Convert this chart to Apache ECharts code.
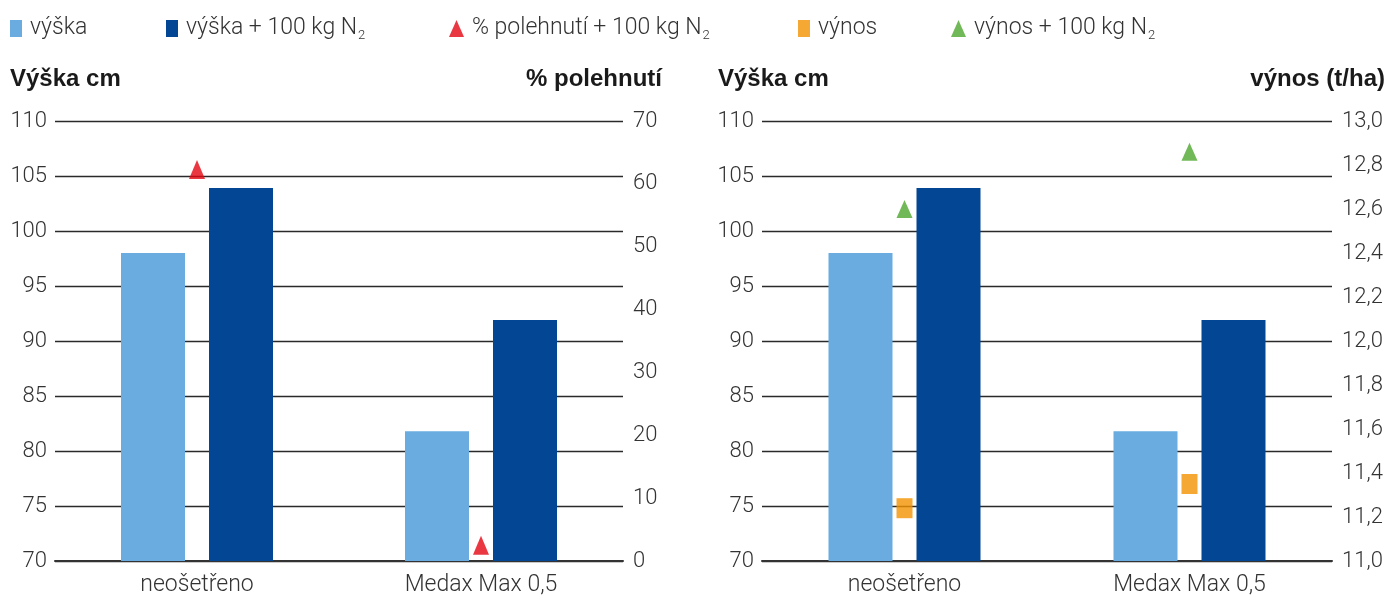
<!DOCTYPE html>
<html><head><meta charset="utf-8">
<script src="https://cdn.jsdelivr.net/npm/echarts@6/dist/echarts.min.js"></script>
<style>html,body{margin:0;padding:0;background:#fff}#c{width:1389px;height:597px}</style>
</head><body><div id="c"></div>
<script>
const categories = ['neošetřeno', 'Medax Max 0,5'];
const vyska = [98, 81.8];
const vyskaN = [103.9, 91.9];
const polehnutiN = [62.3, 2.5];
const vynos = [11.24, 11.35];
const vynosN = [12.6, 12.86];
const heightTicks = {min: 70, max: 110, interval: 5};
const lodgingTicks = {min: 0, max: 70, interval: 10};
const yieldTicks = {min: 11.0, max: 13.0, interval: 0.2};

const C_LIGHT = '#6aacdf', C_DARK = '#034694', C_RED = '#e30613', C_ORANGE = '#f39200', C_GREEN = '#4ea72e';
const TXT = '#333333';
const FONT = 'Roboto';
const tickStyle = {color: TXT, fontFamily: FONT, fontWeight: 300, fontSize: 22};
const textStyle = {color: TXT, fontFamily: FONT, fontWeight: 300, fontSize: 23};

function xAx(i) {
  return {type: 'category', gridIndex: i, data: categories,
    axisLine: {lineStyle: {color: '#333', width: 2}}, axisTick: {show: false},
    axisLabel: Object.assign({margin: 13}, textStyle)};
}
function yAxLeft(i) {
  return Object.assign({type: 'value', gridIndex: i, position: 'left'}, heightTicks, {
    axisLine: {show: false}, axisTick: {show: false},
    splitLine: {lineStyle: {color: '#2a2a2a', width: 1.3}},
    axisLabel: Object.assign({margin: 8}, tickStyle)});
}
function yAxRight(i, t, fmt) {
  return Object.assign({type: 'value', gridIndex: i, position: 'right'}, t, {
    axisLine: {show: false}, axisTick: {show: false}, splitLine: {show: false},
    axisLabel: Object.assign({margin: 10, formatter: fmt}, tickStyle)});
}

const legendRich = {sub: {fontSize: 13, fontFamily: FONT, fontWeight: 300, color: TXT, padding: [15, 0, 0, 1]}};
function fmtName(n) { return n.replace(/100kg N2$/, '100 kg N{sub|2}'); }
function leg(name, x, icon, w, h) {
  return {data: [{name: name, icon: icon}], left: x, top: 17, padding: 0, itemWidth: w, itemHeight: h,
    itemGap: 0, selectedMode: false, formatter: fmtName,
    textStyle: Object.assign({}, textStyle, {rich: legendRich, padding: [0, 0, 0, 3]})};
}

const titleStyle = {fill: '#1a1a1a', font: 'bold 24px "Liberation Sans"'};
const option = {
  animation: false,
  textStyle: {fontFamily: FONT},
  grid: [
    {left: 55, right: 1389 - 623, top: 121, bottom: 34},
    {left: 762, right: 1389 - 1332, top: 121, bottom: 34}
  ],
  legend: [
    leg('výška', 10, 'rect', 12, 17),
    leg('výška + 100kg N2', 166, 'rect', 12, 17),
    leg('% polehnutí + 100kg N2', 449, 'triangle', 15, 17),
    leg('výnos', 798, 'rect', 12, 17),
    leg('výnos + 100kg N2', 951, 'triangle', 15, 17)
  ],
  xAxis: [xAx(0), xAx(1)],
  yAxis: [
    yAxLeft(0),
    yAxRight(0, lodgingTicks, v => String(v)),
    yAxLeft(1),
    yAxRight(1, yieldTicks, v => v.toFixed(1).replace('.', ','))
  ],
  graphic: [
    {type: 'text', left: 10, top: 67, style: Object.assign({text: 'Výška cm'}, titleStyle)},
    {type: 'text', right: 1389 - 662, top: 67, style: Object.assign({text: '% polehnutí'}, titleStyle)},
    {type: 'text', left: 718, top: 67, style: Object.assign({text: 'Výška cm'}, titleStyle)},
    {type: 'text', right: 4, top: 67, style: Object.assign({text: 'výnos (t/ha)'}, titleStyle)}
  ],
  series: [
    {name: 'výška', type: 'bar', xAxisIndex: 0, yAxisIndex: 0, data: vyska, barWidth: 64, barGap: '37.5%', itemStyle: {color: C_LIGHT}},
    {name: 'výška + 100kg N2', type: 'bar', xAxisIndex: 0, yAxisIndex: 0, data: vyskaN, barWidth: 64, barGap: '37.5%', itemStyle: {color: C_DARK}},
    {name: '% polehnutí + 100kg N2', type: 'scatter', xAxisIndex: 0, yAxisIndex: 1, data: polehnutiN, symbol: 'triangle', symbolSize: [16, 19], itemStyle: {color: C_RED}, z: 5},
    {name: 'výška', type: 'bar', xAxisIndex: 1, yAxisIndex: 2, data: vyska, barWidth: 64, barGap: '37.5%', itemStyle: {color: C_LIGHT}},
    {name: 'výška + 100kg N2', type: 'bar', xAxisIndex: 1, yAxisIndex: 2, data: vyskaN, barWidth: 64, barGap: '37.5%', itemStyle: {color: C_DARK}},
    {name: 'výnos', type: 'scatter', xAxisIndex: 1, yAxisIndex: 3, data: vynos, symbol: 'rect', symbolSize: [16, 20], itemStyle: {color: C_ORANGE}, z: 5},
    {name: 'výnos + 100kg N2', type: 'scatter', xAxisIndex: 1, yAxisIndex: 3, data: vynosN, symbol: 'triangle', symbolSize: [16, 18], itemStyle: {color: C_GREEN}, z: 5}
  ]
};
echarts.init(document.getElementById('c'), null, {renderer: 'canvas'}).setOption(option);
</script></body></html>
